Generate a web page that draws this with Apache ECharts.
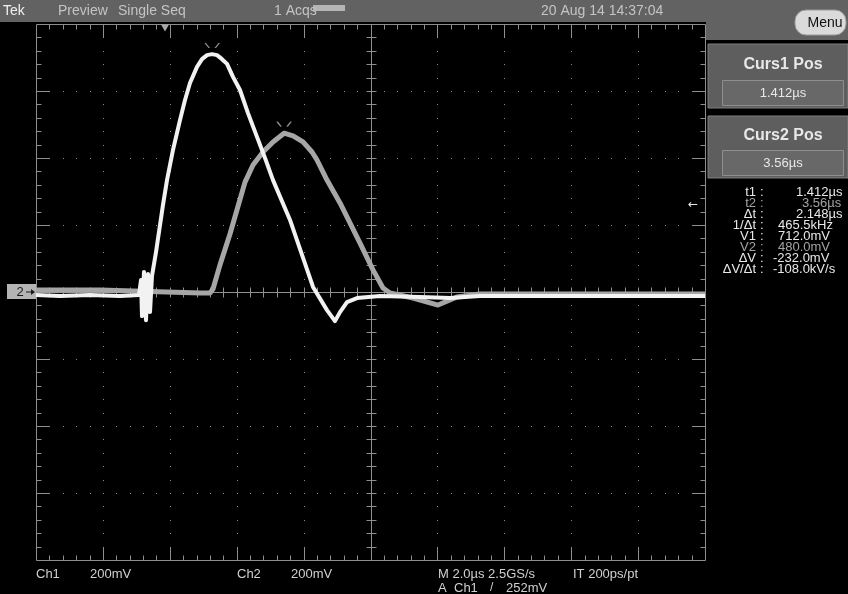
<!DOCTYPE html>
<html><head><meta charset="utf-8">
<script src="https://cdn.jsdelivr.net/npm/echarts@6/dist/echarts.min.js"></script>
<style>html,body{margin:0;padding:0;background:#000;}#c{width:848px;height:594px;}</style>
</head><body><div id="c"></div>
<script>
// ---- data (time in µs, amplitude in mV) ----
const timeMin = -3.8565, timeMax = 16.1435;      // 10 div x 2.0 µs, trigger at t = 0
const ch1Time = [-3.857, -3.139, -2.242, -1.345, -0.777, -0.717, -0.688, -0.628, -0.568, -0.508, -0.448, -0.389, -0.269, -0.060, 0.060, 0.239, 0.448, 0.598, 0.747, 0.957, 1.106, 1.256, 1.405, 1.555, 1.704, 1.854, 2.033, 2.242, 2.481, 2.750, 2.990, 3.229, 3.737, 4.425, 4.843, 5.082, 5.232, 5.441, 5.740, 6.428, 7.623, 8.520, 9.417, 12.0, 16.143];
const ch1mV   = [3, 0, 3, 0, 3, 48, -60, 72, -72, 66, -48, 60, 131, 272, 346, 436, 525, 585, 636, 684, 707, 719, 722, 719, 707, 693, 654, 615, 546, 475, 412, 346, 227, 27, -42, -75, -48, -18, -6, 0, -3, -6, 0, 0, 0];
const ch2Time = [-3.857, -1.943, 1.046, 1.345, 1.435, 1.644, 1.943, 2.392, 2.631, 2.930, 3.229, 3.56, 3.827, 4.126, 4.395, 4.544, 4.843, 5.232, 5.830, 6.218, 6.517, 6.726, 7.414, 8.161, 8.729, 9.417, 13.004, 16.143];
const ch2mV   = [6, 6, -3, -3, 9, 81, 173, 328, 379, 418, 448, 474, 466, 448, 418, 394, 334, 266, 146, 66, 12, -3, -18, -39, -15, -6, -6, -6];
const cursorTime = [1.412, 3.56];
const cursormV = [712, 480];
const triggerTime = 0;
const readLabels = ['t1', 't2', 'Δt', '1/Δt', 'V1', 'V2', 'ΔV', 'ΔV/Δt'];
const readValues = ['1.412µs', '3.56µs', '2.148µs', '465.5kHz', '712.0mV', '480.0mV', '-232.0mV', '-108.0kV/s'];
const readIsCh2 = [false, true, false, false, false, true, false, false];
const divX = 10, divY = 8, minorPerDiv = 5;

// ---- chart ----
const chart = echarts.init(document.getElementById('c'), null, {renderer: 'canvas'});
const FONT = 'Liberation Sans, Arial, sans-serif';
const GT = '#8e8e8e';

function graticule(params, api) {
  const c = (dx, dy) => api.coord([dx, dy]);
  const r = v => Math.round(v) + 0.5;
  const tl = c(0, divY / 2), br = c(divX, -divY / 2);
  const L = r(tl[0]), T = r(tl[1]), R = r(br[0]), B = r(br[1]);
  const cx = r(c(divX / 2, 0)[0]), cy = r(c(0, 0)[1]);
  let p = `M${L} ${T}H${R}V${B}H${L}Z M${L} ${cy}H${R} M${cx} ${T}V${B}`;
  for (let k = 1; k < divX * minorPerDiv; k++) {
    const x = r(c(k / minorPerDiv, 0)[0]);
    const len = k % minorPerDiv === 0 ? 13 : 5;
    p += `M${x} ${T}v${len}M${x} ${B}v${-len}M${x} ${cy - 5}v10`;
  }
  for (let k = 1; k < divY * minorPerDiv; k++) {
    const y = r(c(0, divY / 2 - k / minorPerDiv)[1]);
    const len = k % minorPerDiv === 0 ? 13 : 5;
    p += `M${L} ${y}h${len}M${R} ${y}h${-len}M${cx - 5} ${y}h10`;
  }
  let d = '';
  for (let j = 1; j < divY; j++) {
    if (j === divY / 2) continue;
    const y = Math.round(c(0, divY / 2 - j)[1]);
    for (let k = 0; k <= divX * minorPerDiv; k++) {
      const x = Math.round(c(k / minorPerDiv, 0)[0]);
      d += `M${x} ${y}h1v1h-1Z`;
    }
  }
  for (let i = 1; i < divX; i++) {
    if (i === divX / 2) continue;
    const x = Math.round(c(i, 0)[0]);
    for (let k = 0; k <= divY * minorPerDiv; k++) {
      const y = Math.round(c(0, divY / 2 - k / minorPerDiv)[1]);
      d += `M${x} ${y}h1v1h-1Z`;
    }
  }
  const tx = c((triggerTime - timeMin) / 2, 0)[0];
  return {
    type: 'group',
    children: [
      {type: 'path', shape: {pathData: p}, style: {stroke: GT, fill: 'none', lineWidth: 1}},
      {type: 'path', shape: {pathData: d}, style: {fill: GT, stroke: 'none'}},
      {type: 'polygon', shape: {points: [[tx - 4, T], [tx + 4, T], [tx, T + 7]]}, style: {fill: '#a8a8a8'}}
    ]
  };
}

const graphics = [
  {type: 'rect', shape: {x: 0, y: 0, width: 848, height: 22}, style: {fill: '#626262'}},
  {type: 'rect', shape: {x: 706, y: 0, width: 142, height: 40}, style: {fill: '#626262'}},
  {type: 'rect', shape: {x: 313, y: 5, width: 32, height: 6}, style: {fill: '#b4b4b4'}},
  {type: 'text', x: 3, y: 11, style: {text: 'Tek', fill: '#f0f0f0', fontSize: 14, fontFamily: FONT, align: 'left', verticalAlign: 'middle'}},
  {type: 'text', x: 58, y: 11, style: {text: 'Preview', fill: '#c4c4c4', fontSize: 14, fontFamily: FONT, align: 'left', verticalAlign: 'middle'}},
  {type: 'text', x: 118, y: 11, style: {text: 'Single Seq', fill: '#c4c4c4', fontSize: 14, fontFamily: FONT, align: 'left', verticalAlign: 'middle'}},
  {type: 'text', x: 274, y: 11, style: {text: '1 Acqs', fill: '#c4c4c4', fontSize: 14, fontFamily: FONT, align: 'left', verticalAlign: 'middle'}},
  {type: 'text', x: 541, y: 11, style: {text: '20 Aug 14 14:37:04', fill: '#c4c4c4', fontSize: 14, fontFamily: FONT, align: 'left', verticalAlign: 'middle'}},
  {type: 'rect', shape: {x: 795, y: 10, width: 51, height: 25, r: 11}, style: {fill: '#dadada', stroke: '#9a9a9a', lineWidth: 1}},
  {type: 'text', x: 825, y: 23, style: {text: 'Menu', fill: '#111', fontSize: 14, fontFamily: FONT, align: 'center', verticalAlign: 'middle'}},
  // cursor boxes
  {type: 'rect', shape: {x: 708, y: 44, width: 140, height: 64}, style: {fill: '#5e5e5e', stroke: '#7e7e7e', lineWidth: 1}},
  {type: 'text', x: 783, y: 65, style: {text: 'Curs1 Pos', fill: '#e8e8e8', fontSize: 16, fontWeight: 'bold', fontFamily: FONT, align: 'center', verticalAlign: 'middle'}},
  {type: 'rect', shape: {x: 722.5, y: 80.5, width: 121, height: 25}, style: {fill: '#686868', stroke: '#8e8e8e', lineWidth: 1}},
  {type: 'text', x: 783, y: 93, style: {text: '1.412µs', fill: '#e8e8e8', fontSize: 13, fontFamily: FONT, align: 'center', verticalAlign: 'middle'}},
  {type: 'rect', shape: {x: 708, y: 116, width: 140, height: 62}, style: {fill: '#5e5e5e', stroke: '#7e7e7e', lineWidth: 1}},
  {type: 'text', x: 783, y: 136, style: {text: 'Curs2 Pos', fill: '#e8e8e8', fontSize: 16, fontWeight: 'bold', fontFamily: FONT, align: 'center', verticalAlign: 'middle'}},
  {type: 'rect', shape: {x: 722.5, y: 150.5, width: 121, height: 25}, style: {fill: '#686868', stroke: '#8e8e8e', lineWidth: 1}},
  {type: 'text', x: 783, y: 163, style: {text: '3.56µs', fill: '#e8e8e8', fontSize: 13, fontFamily: FONT, align: 'center', verticalAlign: 'middle'}},
  // side markers
  {type: 'text', x: 693, y: 205, style: {text: '←', fill: '#e8e8e8', fontSize: 12, fontFamily: 'DejaVu Sans', align: 'center', verticalAlign: 'middle'}},
  {type: 'rect', shape: {x: 7, y: 284, width: 29, height: 15}, style: {fill: '#b4b4b4'}},
  {type: 'text', x: 20, y: 292, style: {text: '2', fill: '#1a1a1a', fontSize: 13, fontFamily: FONT, align: 'center', verticalAlign: 'middle'}},
  {type: 'polyline', shape: {points: [[26, 292], [34, 292]]}, style: {stroke: '#1a1a1a', lineWidth: 1}},
  {type: 'polygon', shape: {points: [[35, 292], [31, 289], [31, 295]]}, style: {fill: '#1a1a1a'}},
  // bottom texts
  {type: 'text', x: 36, y: 574, style: {text: 'Ch1', fill: '#d0d0d0', fontSize: 13, fontFamily: FONT, align: 'left', verticalAlign: 'middle'}},
  {type: 'text', x: 90, y: 574, style: {text: '200mV', fill: '#d0d0d0', fontSize: 13, fontFamily: FONT, align: 'left', verticalAlign: 'middle'}},
  {type: 'text', x: 237, y: 574, style: {text: 'Ch2', fill: '#d0d0d0', fontSize: 13, fontFamily: FONT, align: 'left', verticalAlign: 'middle'}},
  {type: 'text', x: 291, y: 574, style: {text: '200mV', fill: '#d0d0d0', fontSize: 13, fontFamily: FONT, align: 'left', verticalAlign: 'middle'}},
  {type: 'text', x: 438, y: 574, style: {text: 'M 2.0µs 2.5GS/s', fill: '#d0d0d0', fontSize: 13, fontFamily: FONT, align: 'left', verticalAlign: 'middle'}},
  {type: 'text', x: 573, y: 574, style: {text: 'IT 200ps/pt', fill: '#d0d0d0', fontSize: 13, fontFamily: FONT, align: 'left', verticalAlign: 'middle'}},
  {type: 'text', x: 438, y: 588, style: {text: 'A', fill: '#d0d0d0', fontSize: 13, fontFamily: FONT, align: 'left', verticalAlign: 'middle'}},
  {type: 'text', x: 454, y: 588, style: {text: 'Ch1', fill: '#d0d0d0', fontSize: 13, fontFamily: FONT, align: 'left', verticalAlign: 'middle'}},
  {type: 'text', x: 490, y: 588, style: {text: '/', fill: '#d0d0d0', fontSize: 12, fontFamily: FONT, align: 'left', verticalAlign: 'middle'}},
  {type: 'text', x: 506, y: 588, style: {text: '252mV', fill: '#d0d0d0', fontSize: 13, fontFamily: FONT, align: 'left', verticalAlign: 'middle'}}
];
const valueLeft = [796, 802, 796, 778, 778, 778, 773, 773];
readLabels.forEach((lab, i) => {
  const y = 192 + i * 11;
  const col = readIsCh2[i] ? '#a4a4a4' : '#e8e8e8';
  graphics.push({type: 'text', x: 756, y: y, style: {text: lab, fill: col, fontSize: 13, fontFamily: FONT, align: 'right', verticalAlign: 'middle'}});
  graphics.push({type: 'text', x: 760, y: y, style: {text: ':', fill: col, fontSize: 13, fontFamily: FONT, align: 'left', verticalAlign: 'middle'}});
  graphics.push({type: 'text', x: valueLeft[i], y: y, style: {text: readValues[i], fill: col, fontSize: 13, fontFamily: FONT, align: 'left', verticalAlign: 'middle'}});
});

const option = {
  backgroundColor: '#000',
  animation: false,
  grid: {left: 36, top: 24, width: 669, height: 536, containLabel: false},
  xAxis: [
    {type: 'value', min: timeMin, max: timeMax, show: false},
    {type: 'value', min: 0, max: divX, show: false}
  ],
  yAxis: [
    {type: 'value', min: -800, max: 800, show: false},
    {type: 'value', min: -788, max: 812, show: false},
    {type: 'value', min: -divY / 2, max: divY / 2, show: false}
  ],
  graphic: {elements: graphics},
  series: [
    {type: 'custom', xAxisIndex: 1, yAxisIndex: 2, data: [[0, 0]], renderItem: graticule, z: 1, silent: true, clip: false},
    {type: 'line', name: 'Ch2', xAxisIndex: 0, yAxisIndex: 0, data: ch2Time.map((t, i) => [t, ch2mV[i]]),
      showSymbol: false, symbol: 'none', lineStyle: {color: '#a6a6a6', width: 5, join: 'round'}, z: 3},
    {type: 'line', name: 'Ch1', xAxisIndex: 0, yAxisIndex: 1, data: ch1Time.map((t, i) => [t, ch1mV[i]]),
      showSymbol: false, symbol: 'none', lineStyle: {color: '#f2f2f2', width: 4, join: 'round'}, z: 4},
    {type: 'scatter', xAxisIndex: 0, yAxisIndex: 1, z: 5,
      data: [{value: [cursorTime[0], cursormV[0]], symbolOffset: [0, -12]}],
      symbol: 'path://M0,0L4,5M10,5L14,0', symbolSize: [14, 5],
      itemStyle: {color: 'none', borderColor: '#b0b0b0', borderWidth: 1}},
    {type: 'scatter', xAxisIndex: 0, yAxisIndex: 0, z: 5,
      data: [{value: [cursorTime[1], cursormV[1]], symbolOffset: [0, -7]}],
      symbol: 'path://M0,0L4,5M10,5L14,0', symbolSize: [14, 5],
      itemStyle: {color: 'none', borderColor: '#b0b0b0', borderWidth: 1}}
  ]
};
chart.setOption(option);
</script></body></html>
